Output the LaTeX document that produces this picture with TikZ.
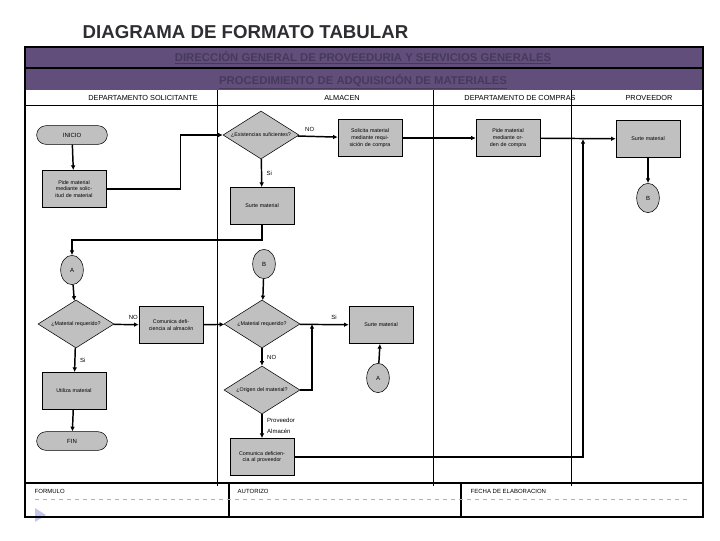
\documentclass[tikz,border=0pt]{standalone}
\usepackage{fontspec}
\setmainfont{Liberation Sans}
\usetikzlibrary{arrows.meta,shapes.geometric}
\definecolor{banda}{RGB}{98,78,122}
\definecolor{textobanda}{RGB}{70,58,92}
\definecolor{caja}{RGB}{192,192,192}
\definecolor{titulo}{RGB}{45,45,50}
\tikzset{
  proceso/.style={draw, fill=caja, minimum width=48pt, minimum height=28pt, inner sep=1pt, align=center, font=\fontsize{4}{5}\selectfont, text width=38pt},
  terminal/.style={draw, fill=caja, rounded corners=7pt, minimum width=53pt, minimum height=14pt, font=\fontsize{4.5}{5}\selectfont},
  decision/.style={draw, fill=caja, diamond, aspect=1.6, minimum width=57pt, minimum height=36pt, inner sep=0pt, font=\fontsize{4}{5}\selectfont},
  conector/.style={draw, fill=caja, ellipse, minimum width=17pt, minimum height=22pt, inner sep=0pt, font=\fontsize{4.5}{5}\selectfont},
  flujo/.style={line width=1.1pt, -{Latex[length=3.5pt,width=3.5pt]}},
  rotulo/.style={font=\fontsize{4.5}{5}\selectfont},
  encabezado/.style={font=\fontsize{5.5}{6}\selectfont}
}
\begin{document}
\begin{tikzpicture}[x=0.75pt,y=-0.75pt]
    \useasboundingbox (0,0) rectangle (720,540);

    % Title
    \node[text=titulo, font=\bfseries\fontsize{14}{16}\selectfont, anchor=west] (titulo) at (78,32) {DIAGRAMA DE FORMATO TABULAR};

    % Bands
    \fill[banda] (25,47) rectangle (703,90);
    \draw[thick] (25,68) -- (703,68);
    \node[text=textobanda, font=\bfseries\fontsize{8.5}{9}\selectfont] (direccion) at (363,58) {\underline{DIRECCIÓN GENERAL DE PROVEEDURIA Y SERVICIOS GENERALES}};
    \node[text=textobanda, font=\bfseries\fontsize{8.5}{9}\selectfont] (procedimiento) at (363,82) {\underline{PROCEDIMIENTO DE ADQUISICIÓN DE MATERIALES}};

    % Lanes
    \draw (25,105) -- (703,105);
    \foreach \x in {217,433,571} \draw (\x,90) -- (\x,486);
    \node[encabezado] (solicitante) at (143,98) {DEPARTAMENTO SOLICITANTE};
    \node[encabezado] (almacen) at (342,98) {ALMACEN};
    \node[encabezado] (compras) at (520,98) {DEPARTAMENTO DE COMPRAS};
    \node[encabezado] (proveedor) at (649,98) {PROVEEDOR};

    % Footer
    \draw[very thick] (25,483) -- (703,483);
    \draw[thick] (229,483) -- (229,517);
    \draw[thick] (461,483) -- (461,517);
    \draw[dashed, gray!60] (35,499) -- (690,499);
    \node[rotulo, anchor=west] (formulo) at (30,491) {FORMULO};
    \node[rotulo, anchor=west] (autorizo) at (233,491) {AUTORIZO};
    \node[rotulo, anchor=west] (fecha) at (466,491) {FECHA DE ELABORACION};
    \fill[gray!50!blue!30] (35,508) -- (46,515) -- (35,522) -- cycle;

    % Frame
    \draw[very thick] (25,47) rectangle (703,517);

    % Nodes
    \node[terminal] (inicio) at (72,135) {INICIO};
    \node[proceso] (pide) at (74,189) {Pide material mediante solicitud de material};
    \node[decision] (existencias) at (261,135) {¿Existencias suficientes?};
    \node[proceso] (solicita) at (370,138) {Solicita material mediante requisición de compra};
    \node[proceso] (orden) at (508,138) {Pide material mediante orden de compra};
    \node[proceso] (surteprov) at (648,139) {Surte material};
    \node[conector] (b1) at (648,198) {B};
    \node[proceso] (surte1) at (262,206) {Surte material};
    \node[conector] (a1) at (72,270) {A};
    \node[decision] (requerido1) at (76,324) {¿Material requerido?};
    \node[proceso] (comunica1) at (171,325) {Comunica deficiencia al almacén};
    \node[conector] (b2) at (264,264) {B};
    \node[decision] (requerido2) at (262,324) {¿Material requerido?};
    \node[proceso] (surte2) at (381,325) {Surte material};
    \node[conector] (a2) at (378,378) {A};
    \node[decision] (origen) at (262,390) {¿Origen del material?};
    \node[proceso] (comunica2) at (262,457) {Comunica deficiencia al proveedor};
    \node[proceso] (utiliza) at (74,391) {Utiliza material};
    \node[terminal] (fin) at (72,441) {FIN};
    \coordinate (junta1) at (312,324);
    \coordinate (junta2) at (583,139);

    % Connectors
    \draw[flujo] (inicio) -- (pide);
    \draw[flujo] (pide.east) -- ++(74,0) |- (existencias.west);
    \draw[flujo] (existencias) -- node[rotulo, above, pos=0.3] {NO} (solicita);
    \draw[flujo] (solicita) -- (orden);
    \draw[flujo] (orden) -- (surteprov);
    \draw[flujo] (surteprov) -- (b1);
    \draw[flujo] (existencias) -- node[rotulo, right] {Si} (surte1);
    \draw[flujo] (surte1.south) -- ++(0,15) -| (a1.north);
    \draw[flujo] (a1) -- (requerido1);
    \draw[flujo] (requerido1) -- node[rotulo, above right, pos=0.4] {NO} (comunica1);
    \draw[flujo] (requerido1) -- node[rotulo, right] {Si} (utiliza);
    \draw[flujo] (utiliza) -- (fin);
    \draw[flujo] (comunica1) -- (requerido2);
    \draw[flujo] (b2) -- (requerido2);
    \draw[flujo] (requerido2) -- node[rotulo, above, pos=0.7] {Si} (surte2);
    \draw[flujo] (a2) -- (surte2);
    \draw[flujo] (requerido2) -- node[rotulo, right] {NO} (origen);
    \draw[flujo] (origen.east) -| (junta1);
    \draw[flujo] (origen) -- node[rotulo, right, pos=0.25] {Proveedor} node[rotulo, right, pos=0.7] {Almacén} (comunica2);
    \draw[flujo] (comunica2.east) -| (junta2);
\end{tikzpicture}
\end{document}
